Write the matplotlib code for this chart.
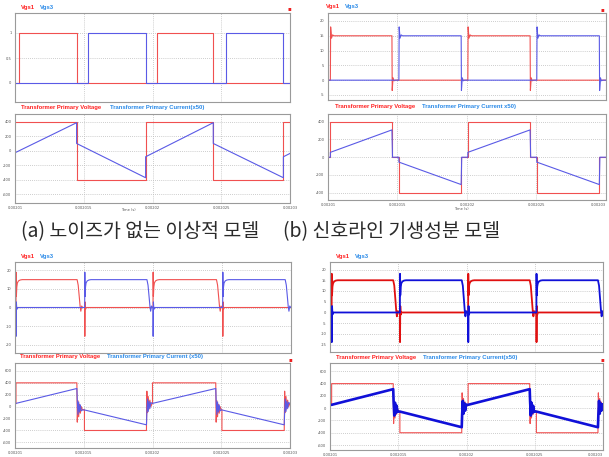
import numpy as np
import matplotlib
matplotlib.use("Agg")
import matplotlib.pyplot as plt

W, H = 609, 457
T0 = 0.00201  # window start [s]; all times below are in us from T0

x_ticks = [0.00201, 0.002015, 0.00202, 0.002025, 0.00203]
x_tick_labels = ["0.00201", "0.002015", "0.00202", "0.002025", "0.00203"]

# (a) ideal model without noise
a_vgs1_on = [(0.32, 4.48), (10.3, 14.42)]
a_vgs3_on = [(5.28, 9.5), (15.32, 19.52)]
a_vp_t = [0, 4.48, 4.48, 9.5, 9.5, 14.42, 14.42, 19.52, 19.52, 20]
a_vp_v = [400, 400, -400, -400, 400, 400, -400, -400, 400, 400]
a_ip_t = [0, 4.48, 4.48, 9.5, 9.5, 14.42, 14.42, 19.52, 19.52, 20]
a_ip_v = [-28, 386, 100, -372, -83, 386, 100, -372, -83, -37]

# (b) signal line parasitics
b_vgs1_on = [(0.17, 4.6), (10.06, 14.54)]
b_vgs3_on = [(5.1, 9.58), (15.02, 19.52)]
b_rise_t = [0, 0.02, 0.08, 0.16, 0.26]
b_rise_v = [0, 18, 14.2, 15.3, 15]
b_fall_t = [0, 0.02, 0.08, 0.15, 0.25]
b_fall_v = [15, -3.5, 0.8, -0.2, 0]
b_ip_start, b_ip_end = 55, 308
b_ip_dead_t = [0.04]
b_ip_dead_v = [0]

# (c) gate circuit ringing
c_vgs1_on = [(0.07, 4.5), (10.0, 14.6)]
c_vgs3_on = [(5.05, 9.56), (15.05, 19.58)]
c_rise_t = [0, 0.01, 0.03, 0.06, 0.1, 0.18, 0.3, 0.45]
c_rise_v = [0, 19, 6, 11, 13.2, 14.3, 14.8, 15]
c_fall_t = [0, 0.08, 0.16, 0.22, 0.27, 0.33, 0.4]
c_fall_v = [15, 12, 5.5, 0.5, -2, 0.8, 0]
c_kick_t = [0, 0.01, 0.03, 0.06, 0.1]
c_kick_v = [0, -15.5, 3, -1, 0]
c_dead_t = [0.03, 0.08, 0.13, 0.19, 0.25, 0.32, 0.4]
c_vp_dead_v = [-260, 100, -170, 40, -110, 0, -50]
c_ip_dead_v = [100, -130, 80, -90, 30, -70, -55]
c_ip_start, c_ip_end = 55, 305

# (d)
d_vgs1_on = [(0.12, 4.63), (10.12, 14.63)]
d_vgs3_on = [(5.12, 9.65), (15.12, 19.63)]
d_rise_t = [0, 0.01, 0.03, 0.06, 0.1, 0.18, 0.3, 0.45]
d_rise_v = [0, 18, 8, 12, 13.5, 14.4, 14.85, 15]
d_fall_t = [0, 0.08, 0.16, 0.22, 0.27, 0.33, 0.4]
d_fall_v = [15, 12.5, 6, 1, -1.8, 0.6, 0]
d_kick_t = [0, 0.01, 0.03, 0.06, 0.1]
d_kick_v = [0, -13.8, 3, -1, 0]
d_dead_t = [0.03, 0.08, 0.13, 0.19, 0.25, 0.32, 0.4]
d_vp_dead_v = [-250, 80, -160, 30, -100, -10, -50]
d_ip_dead_v = [110, -120, 90, -80, 40, -60, -55]
d_ip_start, d_ip_end = 55, 310

VP_LEVEL = 400

RED = "#f05050"
BLUE = "#5a5ae6"
RED_D = "#e01010"
BLUE_D = "#1010d8"
T_RED = "#ff2020"
T_BLUE = "#2a8ae8"


def to_sec(t):
    return T0 + np.asarray(t, dtype=float) * 1e-6


def gate(on, rise_t, rise_v, fall_t, fall_v, kicks=(), kick_t=(), kick_v=()):
    pts = [(0.0, 0.0)]
    for r, f in on:
        pts += [(r + d, v) for d, v in zip(rise_t, rise_v)]
        pts += [(f + d, v) for d, v in zip(fall_t, fall_v)]
    for k in kicks:
        pts += [(k + d, v) for d, v in zip(kick_t, kick_v)]
    pts.sort(key=lambda p: p[0])
    pts.append((20.0, 0.0))
    t, v = zip(*pts)
    return to_sec(t), np.array(v)


def bridge(v1_on, v3_on, start, end, dead_t, dead_v):
    # +start..+end while Vgs1 conducts, mirrored while Vgs3 conducts
    hold = dead_v[-1]
    pts = [(0.0, -hold)]
    for (r1, f1), (r3, f3) in zip(v1_on, v3_on):
        pts += [(r1, -hold), (r1, start), (f1, end)]
        pts += [(f1 + d, v) for d, v in zip(dead_t, dead_v)]
        pts += [(r3, hold), (r3, -start), (f3, -end)]
        pts += [(f3 + d, -v) for d, v in zip(dead_t, dead_v)]
    pts.append((20.0, -hold))
    t, v = zip(*pts)
    return to_sec(t), np.array(v)


def rises(on):
    return [r for r, _ in on]


fig = plt.figure(figsize=(W / 100, H / 100), dpi=100)


def make_axes(l, t, r, b):
    return fig.add_axes([l / W, 1 - b / H, (r - l) / W, (b - t) / H])


def style(ax, yticks, ylim, show_x=False, edge=False):
    ax.set_xlim(x_ticks[0], x_ticks[-1])
    ax.set_ylim(*ylim)
    ax.set_xticks(x_ticks)
    ax.set_yticks(yticks)
    ax.set_yticklabels([f"{y:g}" for y in yticks])
    if show_x:
        ax.set_xticklabels(x_tick_labels)
        if edge:
            # last label would run past the figure edge
            ax.get_xticklabels()[-1].set_horizontalalignment("right")
    else:
        ax.set_xticklabels([])
    ax.tick_params(length=0, labelsize=2.6, labelcolor="#555555", pad=2.5)
    ax.grid(True, color="#bdbdbd", linestyle=(0, (1, 1.5)), linewidth=0.6)
    for s in ax.spines.values():
        s.set_color("#9a9a9a")
        s.set_linewidth(0.8)


def txt(x, y, s, color, size=4.2, **kw):
    fig.text(x / W, 1 - y / H, s, color=color, fontsize=size, fontweight="bold",
             family="Liberation Sans", va="center", ha="left", **kw)


def titles(x, y, left, right, gap):
    txt(x, y, left, T_RED)
    txt(x + gap, y, right, T_BLUE)


# ---- (a)
ax = make_axes(15, 13, 290, 102)
ax.plot(*gate(a_vgs1_on, [0, 0], [0, 1], [0, 0], [1, 0]), color=RED, lw=0.8)
ax.plot(*gate(a_vgs3_on, [0, 0], [0, 1], [0, 0], [1, 0]), color=BLUE, lw=0.8)
style(ax, [0, 0.5, 1], (-0.38, 1.4))
ax = make_axes(15, 114, 290, 203)
ax.plot(to_sec(a_vp_t), a_vp_v, color=RED, lw=0.8)
ax.plot(to_sec(a_ip_t), a_ip_v, color=BLUE, lw=0.8)
style(ax, [-600, -400, -200, 0, 200, 400], (-720, 506), show_x=True)

# ---- (b)
ax = make_axes(328, 13, 606, 100)
ax.plot(*gate(b_vgs1_on, b_rise_t, b_rise_v, b_fall_t, b_fall_v), color=RED, lw=0.8)
ax.plot(*gate(b_vgs3_on, b_rise_t, b_rise_v, b_fall_t, b_fall_v), color=BLUE, lw=0.8)
style(ax, [-5, 0, 5, 10, 15, 20], (-6.7, 22.7))
ax = make_axes(328, 114, 606, 200)
ax.plot(*bridge(b_vgs1_on, b_vgs3_on, VP_LEVEL, VP_LEVEL, [0], [0]), color=RED, lw=0.8)
ax.plot(*bridge(b_vgs1_on, b_vgs3_on, b_ip_start, b_ip_end, b_ip_dead_t, b_ip_dead_v),
        color=BLUE, lw=0.8)
style(ax, [-400, -200, 0, 200, 400], (-482, 487), show_x=True, edge=True)

# ---- (c)
ax = make_axes(15, 262, 291, 353)
ax.plot(*gate(c_vgs1_on, c_rise_t, c_rise_v, c_fall_t, c_fall_v,
              rises(c_vgs3_on), c_kick_t, c_kick_v), color=RED, lw=0.8)
ax.plot(*gate(c_vgs3_on, c_rise_t, c_rise_v, c_fall_t, c_fall_v,
              rises(c_vgs1_on), c_kick_t, c_kick_v), color=BLUE, lw=0.8)
style(ax, [-20, -10, 0, 10, 20], (-24.5, 24.5))
ax = make_axes(15, 363, 290, 448)
ax.plot(*bridge(c_vgs1_on, c_vgs3_on, VP_LEVEL, VP_LEVEL, c_dead_t, c_vp_dead_v),
        color=RED, lw=0.8)
ax.plot(*bridge(c_vgs1_on, c_vgs3_on, c_ip_start, c_ip_end, c_dead_t, c_ip_dead_v),
        color=BLUE, lw=0.8)
style(ax, [-600, -400, -200, 0, 200, 400, 600], (-694, 733), show_x=True)

# ---- (d)
ax = make_axes(330, 262, 603, 352)
ax.plot(*gate(d_vgs1_on, d_rise_t, d_rise_v, d_fall_t, d_fall_v,
              rises(d_vgs3_on), d_kick_t, d_kick_v), color=RED_D, lw=1.3)
ax.plot(*gate(d_vgs3_on, d_rise_t, d_rise_v, d_fall_t, d_fall_v,
              rises(d_vgs1_on), d_kick_t, d_kick_v), color=BLUE_D, lw=1.3)
style(ax, [-15, -10, -5, 0, 5, 10, 15, 20], (-18.4, 23.5))
ax = make_axes(330, 363, 603, 450)
ax.plot(*bridge(d_vgs1_on, d_vgs3_on, VP_LEVEL, VP_LEVEL, d_dead_t, d_vp_dead_v),
        color=RED, lw=0.8)
ax.plot(*bridge(d_vgs1_on, d_vgs3_on, d_ip_start, d_ip_end, d_dead_t, d_ip_dead_v),
        color=BLUE_D, lw=1.9)
style(ax, [-600, -400, -200, 0, 200, 400, 600], (-681, 736), show_x=True, edge=True)

# legends above each plot
titles(21, 7, "Vgs1", "Vgs3", 19)
titles(21, 107, "Transformer Primary Voltage", "Transformer Primary Current(x50)", 88.6)
titles(326, 6.5, "Vgs1", "Vgs3", 18.5)
titles(335, 106.7, "Transformer Primary Voltage", "Transformer Primary Current x50)", 86.7)
titles(21, 256.7, "Vgs1", "Vgs3", 19)
titles(20, 356.7, "Transformer Primary Voltage", "Transformer Primary Current (x50)", 87.3)
titles(336, 256.7, "Vgs1", "Vgs3", 18.5)
titles(336, 357.3, "Transformer Primary Voltage", "Transformer Primary Current(x50)", 87.3)

# small red markers at the panel corners
for x, y in [(289, 9), (602.7, 10), (290, 359.3), (602.7, 360)]:
    fig.text(x / W, 1 - y / H, "\u25aa", color="#ee2020", fontsize=4, ha="center", va="center")

for x, y in [(128, 210), (461.7, 209)]:
    fig.text(x / W, 1 - y / H, "Time (s)", color="#555555", fontsize=2.6, ha="center", va="center")

cap = dict(fontsize=14, color="#2a2a2a", ha="center", va="center",
           family=["Noto Sans CJK KR", "DejaVu Sans"])
fig.text(140 / W, 1 - 232 / H, "(a) 노이즈가 없는 이상적 모델", **cap)
fig.text(391.5 / W, 1 - 232 / H, "(b) 신호라인 기생성분 모델", **cap)

fig.savefig("out.png", dpi=100)
